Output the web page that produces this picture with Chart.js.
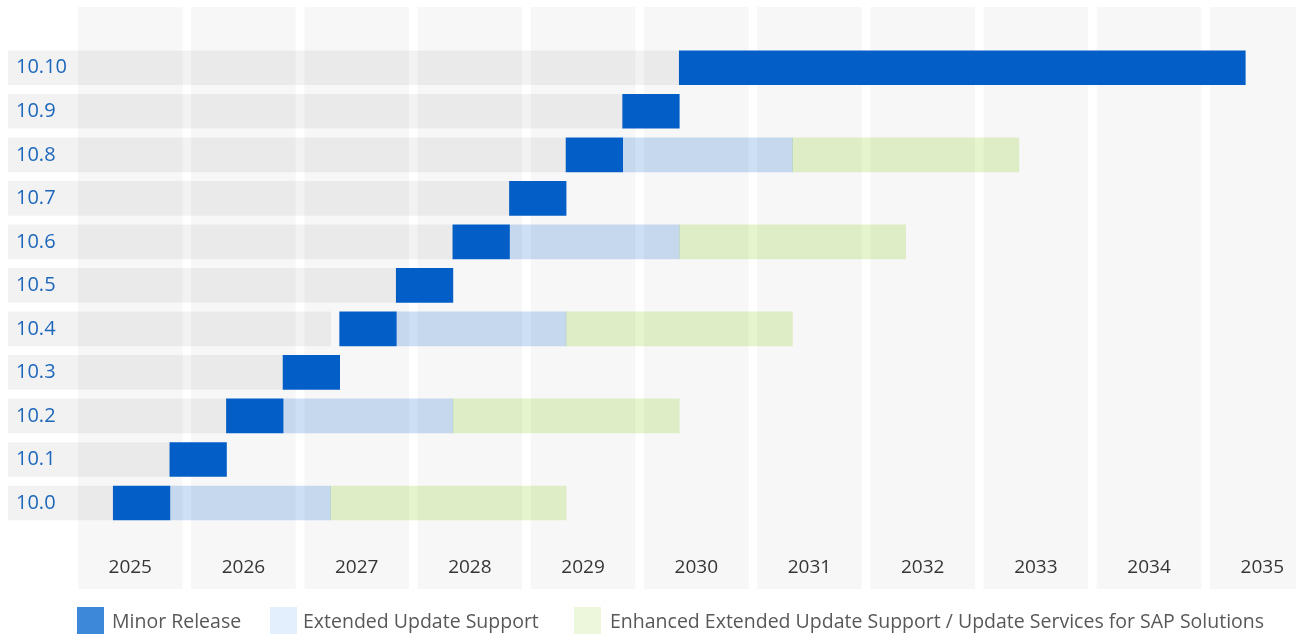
<!DOCTYPE html>
<html>
<head>
<meta charset="utf-8">
<script src="https://cdn.jsdelivr.net/npm/chart.js@4.4.1/dist/chart.umd.min.js"></script>
<style>
  html, body { margin: 0; padding: 0; background: #ffffff; }
  #wrap { position: relative; width: 1296px; height: 634px; overflow: hidden; font-family: "Open Sans", sans-serif; }
  #chart { position: absolute; left: 0; top: 0; }
  .lg-box { position: absolute; width: 27px; height: 27px; top: 607px; }
  .lg-text { position: absolute; top: 607px; line-height: 27px; font-size: 19.5px; color: #585858; white-space: nowrap; }
</style>
</head>
<body>
<div id="wrap">
  <canvas id="chart" width="1296" height="634"></canvas>
  <div class="lg-box" style="left:77px; background:#3d88d9;"></div>
  <div class="lg-text" style="left:112px;">Minor Release</div>
  <div class="lg-box" style="left:270px; background:#e3effc;"></div>
  <div class="lg-text" style="left:303px;">Extended Update Support</div>
  <div class="lg-box" style="left:574px; background:#edf7dc;"></div>
  <div class="lg-text" style="left:610px;">Enhanced Extended Update Support / Update Services for SAP Solutions</div>
</div>
<script>
// ---- Data (years as decimal values; label year Y covers Y .. Y+1) ----
const releases = ['10.10', '10.9', '10.8', '10.7', '10.6', '10.5', '10.4', '10.3', '10.2', '10.1', '10.0'];
const releaseStart = [2030.35, 2029.85, 2029.35, 2028.85, 2028.35, 2027.85, 2027.35, 2026.85, 2026.35, 2025.85, 2025.35];
const minorEnd     = [2035.35, 2030.35, 2029.85, 2029.35, 2028.85, 2028.35, 2027.85, 2027.35, 2026.85, 2026.35, 2025.85];
const eusEnd       = [null, null, 2031.35, null, 2030.35, null, 2029.35, null, 2028.35, null, 2027.27];
const e4sEnd       = [null, null, 2033.35, null, 2032.35, null, 2031.35, null, 2030.35, null, 2029.35];
const rowShadeEnd  = [2030.35, 2029.85, 2029.35, 2028.85, 2028.35, 2027.85, 2027.27, 2026.85, 2026.35, 2025.85, 2025.35];
const years = [2025, 2026, 2027, 2028, 2029, 2030, 2031, 2032, 2033, 2034, 2035];
const seriesNames = ['Minor Release', 'Extended Update Support', 'Enhanced Extended Update Support / Update Services for SAP Solutions'];

const X_MIN = 2024.42;
const X_MAX = 2035.798;

const rowShade = releases.map((r, i) => [X_MIN, rowShadeEnd[i]]);
const minorData = releases.map((r, i) => [releaseStart[i], minorEnd[i]]);
const eusData = releases.map((r, i) => eusEnd[i] === null ? null : [minorEnd[i], eusEnd[i]]);
const e4sData = releases.map((r, i) => e4sEnd[i] === null ? null : [eusEnd[i], e4sEnd[i]]);

const yearBands = {
  id: 'yearBands',
  beforeDraw(chart) {
    const {ctx} = chart;
    const xs = chart.scales.x;
    ctx.save();
    ctx.fillStyle = '#f7f7f7';
    years.forEach(y => {
      const a = xs.getPixelForValue(y) + 4.3;
      const b = xs.getPixelForValue(y + 1) - 4.3;
      ctx.fillRect(a, 7, b - a, 582);
    });
    ctx.restore();
  }
};

const common = { grouped: false, borderWidth: 0, borderSkipped: false, barThickness: 34 };

new Chart(document.getElementById('chart'), {
  type: 'bar',
  data: {
    labels: releases,
    datasets: [
      Object.assign({ label: 'shade', data: rowShade, backgroundColor: 'rgba(0,0,0,0.052)' }, common),
      Object.assign({ label: seriesNames[0], data: minorData, backgroundColor: 'rgba(0,93,198,0.99)' }, common),
      Object.assign({ label: seriesNames[1], data: eusData, backgroundColor: 'rgba(0,95,200,0.2)' }, common),
      Object.assign({ label: seriesNames[2], data: e4sData, backgroundColor: 'rgba(140,205,30,0.22)' }, common)
    ]
  },
  options: {
    indexAxis: 'y',
    responsive: false,
    animation: false,
    layout: { padding: { top: 46, bottom: 24.5, left: 0, right: 0 } },
    plugins: {
      legend: { display: false },
      tooltip: { enabled: false }
    },
    scales: {
      x: {
        type: 'linear',
        min: X_MIN,
        max: X_MAX,
        grid: { display: false, drawTicks: false },
        border: { display: false },
        afterBuildTicks(scale) {
          scale.ticks = years.map(y => ({ value: y + 0.5 }));
        },
        afterFit(scale) {
          scale.height = 84.75;
          scale.paddingLeft = 0;
          scale.paddingRight = 0;
        },
        ticks: {
          autoSkip: false,
          maxRotation: 0,
          padding: 31,
          color: '#363636',
          font: { family: 'Open Sans', size: 19 },
          callback: v => String(Math.floor(v))
        }
      },
      y: {
        type: 'category',
        grid: { display: false, drawTicks: false },
        border: { display: false },
        afterFit(scale) { scale.width = 8; },
        ticks: {
          mirror: true,
          padding: 8,
          color: '#1f6dc6',
          font: { family: 'Open Sans', size: 20 }
        }
      }
    }
  },
  plugins: [yearBands]
});
</script>
</body>
</html>
